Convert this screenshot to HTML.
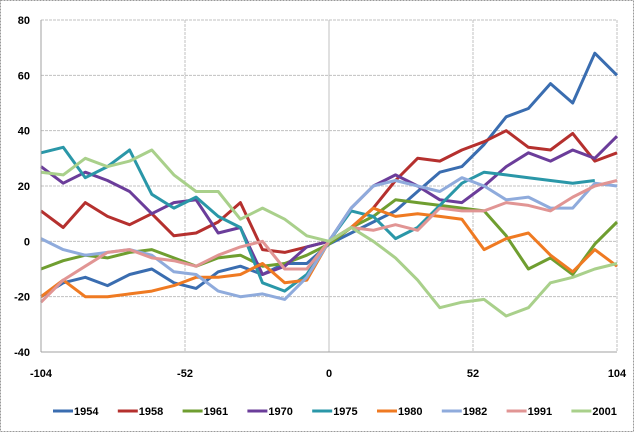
<!DOCTYPE html>
<html><head><meta charset="utf-8"><style>
html,body{margin:0;padding:0;background:#fff;}
svg text{font-family:"Liberation Sans",sans-serif;font-size:11px;font-weight:bold;fill:#000;}
</style></head><body>
<svg id="chart" width="634" height="432" viewBox="0 0 634 432" xmlns="http://www.w3.org/2000/svg">
<rect x="0.5" y="0.5" width="633" height="431" fill="#fff" stroke="#999" stroke-dasharray="2,1"/>
<g id="grid"></g>
<g id="series"></g>
<g id="axes"></g>
<g id="legend"></g>
</svg>
<script>
const weeks = [-104,-96,-88,-80,-72,-64,-56,-48,-40,-32,-24,-16,-8,0,8,16,24,32,40,48,56,64,72,80,88,96,104];
const seriesNames = ["1954","1958","1961","1970","1975","1980","1982","1991","2001"];
const s1954 = [-20,-15,-13,-16,-12,-10,-15,-17,-11,-9,-12,-8,-8,-1,3,7,11,18,25,27,35,45,48,57,50,68,60];
const s1958 = [11,5,14,9,6,10,2,3,7,14,-3,-4,-2,0,5,12,22,30,29,33,36,40,34,33,39,29,32];
const s1961 = [-10,-7,-5,-6,-4,-3,-6,-9,-6,-5,-9,-8,-5,-1,5,9,15,14,13,12,11,2,-10,-6,-12,-1,7];
const s1970 = [27,21,25,22,18,10,14,15,3,5,-12,-9,-2,0,12,20,24,20,15,14,20,27,32,29,33,30,38];
const s1975 = [32,34,23,27,33,17,12,16,9,5,-15,-18,-12,0,11,9,1,5,13,21,25,24,23,22,21,22];
const s1980 = [-20,-14,-20,-20,-19,-18,-16,-13,-13,-12,-8,-15,-14,0,5,12,9,10,9,8,-3,1,3,-5,-11,-3,-9];
const s1982 = [1,-3,-5,-4,-3,-5,-11,-12,-18,-20,-19,-21,-13,0,12,20,22,20,18,23,20,15,16,12,12,21,20];
const s1991 = [-22,-14,-9,-4,-3,-6,-7,-9,-5,-2,0,-10,-10,0,5,4,6,4,12,11,11,14,13,11,16,20,22];
const s2001 = [25,24,30,27,29,33,24,18,18,8,12,8,2,0,5,0,-6,-14,-24,-22,-21,-27,-24,-15,-13,-10,-8];
const yTicks = [80,60,40,20,0,-20,-40];
const xTicks = [-104,-52,0,52,104];
const colors = ["#3a6db0","#b5302e","#6f9e30","#6b3d9a","#2a97a8","#ef7a22","#8fabdc","#e19594","#a9d08b"];
const allSeries = [s1954,s1958,s1961,s1970,s1975,s1980,s1982,s1991,s2001];

const X0=41, X1=617, Y0=352, Y1=20;
const xs = v => X0 + (v+104)/208*(X1-X0);
const ys = v => Y0 - (v+40)/120*(Y0-Y1);
const NS="http://www.w3.org/2000/svg";
const grid=document.getElementById('grid'), axes=document.getElementById('axes'), ser=document.getElementById('series'), leg=document.getElementById('legend');
function mk(tag, attrs, parent){const e=document.createElementNS(NS,tag);for(const k in attrs)e.setAttribute(k,attrs[k]);parent.appendChild(e);return e;}

yTicks.forEach(t=>{
  if(t!==-40){
    const l=mk('line',{x1:X0,x2:X1,y1:ys(t),y2:ys(t),stroke:'#c0c0c0','stroke-width':1,'stroke-dasharray':'3,1'},grid);
    
    
  }
  const tx=mk('text',{x:30,y:ys(t)+4,'text-anchor':'end'},axes);
  tx.textContent=t;
  
  
});
xTicks.forEach(t=>{
  if(t!==-104){
    const l=mk('line',{x1:xs(t),x2:xs(t),y1:Y1,y2:Y0,stroke:'#c0c0c0','stroke-width':1,'stroke-dasharray':t===0?'':'3,1'},grid);
    
    
  }
  const tx=mk('text',{x:xs(t),y:377,'text-anchor':'middle'},axes);
  tx.textContent=t;
  
  
});
const ya=mk('line',{x1:X0,x2:X0,y1:Y1,y2:Y0,stroke:'#a0a0a0'},axes);


const xa=mk('line',{x1:X0,x2:X1,y1:Y0,y2:Y0,stroke:'#a0a0a0'},axes);



allSeries.forEach((vals,i)=>{
  const pts=vals.map((v,j)=>xs(weeks[j]).toFixed(1)+','+ys(v).toFixed(1)).join(' ');
  const p=mk('polyline',{points:pts,fill:'none',stroke:colors[i],'stroke-width':3,'stroke-linejoin':'round'},ser);
  
  
  const lx=53+i*64.8;
  const g=mk('g',{},leg);
  
  
  mk('line',{x1:lx,x2:lx+20,y1:411,y2:411,stroke:colors[i],'stroke-width':3},g);
  const t=mk('text',{x:lx+21,y:415},g);
  t.textContent=seriesNames[i];
});
</script>
</body></html>
